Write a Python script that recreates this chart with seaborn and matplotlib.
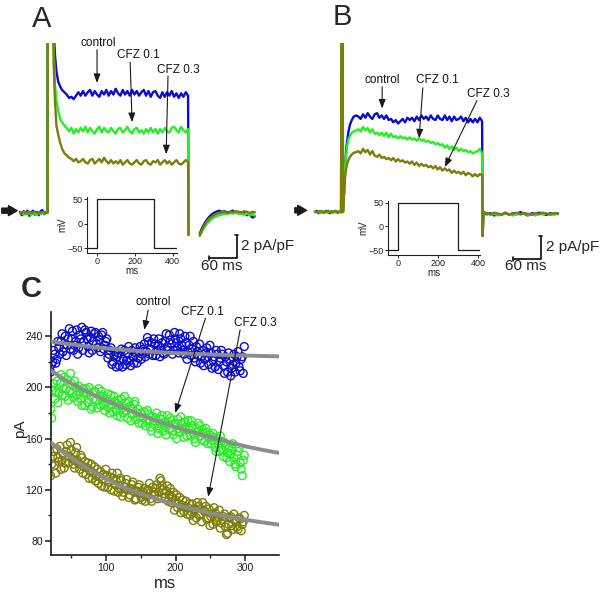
import matplotlib
matplotlib.use('Agg')
import matplotlib.pyplot as plt
import seaborn as sns

sns.set_theme(style='ticks')
plt.rcParams['font.family'] = ['Liberation Sans', 'DejaVu Sans']

BLUE = '#0b0bd0'
GREEN = '#26ee26'
OLIVE = '#7d7d08'
GRAY = '#8c8c8c'

# ---------------- Panel A traces (ms, pA/pF) ----------------
A_time = ([-60, -56, -52, -48, -44, -40, -36, -32, -28, -24, -20, -16, -12, -8, -4, -1,
           0, 9, 12, 15, 18, 22, 26, 30] + list(range(35, 301, 5)) + [301])
A_ctrl = [0.1, -0.2, 0.15, -0.1, 0.2, -0.25, 0.05, 0.2, -0.15, 0.1, -0.2, 0.15, 0.25, -0.1, 0.1, 0.0,
          40, 40, 16, 13.7, 12.3, 11.4, 11.0, 10.7,
          10.5, 10.3, 10.0, 10.1, 9.9, 10.2, 10.5, 10.2, 10.6, 10.2,
          10.5, 10.7, 10.2, 10.6, 10.3, 10.1, 10.6, 10.3, 10.7, 10.2,
          10.6, 10.3, 10.8, 10.4, 10.2, 10.7, 10.3, 10.6, 10.2, 10.7,
          10.3, 10.6, 10.2, 10.5, 10.7, 10.2, 10.6, 10.1, 10.5, 10.6,
          10.2, 10.0, 10.5, 10.1, 10.5, 10.2, 10.6, 10.1, 10.4, 10.0,
          10.4, 10.1, 10.5, 10.2,
          -1.9]
A_cfz01 = [-0.05, 0.05, -0.15, 0.0, -0.1, 0.05, -0.2, 0.0, -0.05, -0.15, 0.05, -0.1, 0.0, -0.05, 0.05, 0.0,
           40, 40, 14.5, 11.1, 9.8, 8.8, 8.2, 7.9,
           7.6, 7.4, 7.1, 7.4, 6.9, 7.3, 7.0, 7.4, 7.1, 7.5,
           7.0, 7.4, 7.1, 6.9, 7.3, 7.5, 7.0, 7.4, 7.1, 7.0,
           7.4, 7.1, 6.9, 7.3, 7.4, 7.0, 7.2, 7.5, 7.1, 6.9,
           7.3, 7.4, 7.0, 7.2, 6.9, 7.3, 7.0, 7.4, 7.0, 7.3,
           6.9, 7.3, 7.0, 7.4, 7.1, 7.0, 7.4, 7.5, 7.2, 7.0,
           7.5, 7.2, 7.0, 7.3,
           -1.9]
A_cfz03 = [0.05, 0.0, 0.1, -0.05, 0.05, 0.1, 0.0, 0.05, 0.1, 0.0, 0.05, 0.0, 0.1, 0.05, 0.0, 0.05,
           40, 40, 13.0, 9.6, 7.6, 6.8, 6.1, 5.6,
           5.2, 5.0, 4.8, 4.7, 4.5, 4.7, 4.4, 4.5, 4.7, 4.4,
           4.3, 4.6, 4.7, 4.3, 4.5, 4.7, 4.4, 4.8, 4.5, 4.3,
           4.6, 4.3, 4.5, 4.3, 4.6, 4.2, 4.4, 4.6, 4.3, 4.2,
           4.4, 4.6, 4.3, 4.2, 4.5, 4.6, 4.3, 4.2, 4.5, 4.4,
           4.6, 4.2, 4.4, 4.6, 4.3, 4.5, 4.2, 4.4, 4.6, 4.3,
           4.2, 4.4, 4.6, 4.4,
           -1.9]

A_tail_time = [325, 328, 332, 336, 340, 345, 350, 355, 360, 366, 372, 378,
               384, 390, 396, 402, 408, 414, 420, 426, 432, 438, 443]
A_tail_ctrl = [-1.8, -1.5, -1.15, -0.85, -0.6, -0.35, -0.15, 0.0, 0.1, 0.2, 0.1, 0.15,
               0.05, 0.1, 0.2, 0.0, 0.1, -0.05, 0.1, -0.2, -0.1, -0.4, -0.3]
A_tail_cfz01 = [-2.0, -1.75, -1.45, -1.2, -0.95, -0.75, -0.55, -0.4, -0.3, -0.2, -0.15, -0.05,
                -0.1, 0.0, -0.05, 0.05, -0.1, 0.0, -0.15, -0.05, -0.2, -0.1, -0.25]
A_tail_cfz03 = [-1.95, -1.65, -1.3, -1.0, -0.75, -0.5, -0.35, -0.2, -0.1, 0.0, 0.05, 0.1,
                0.0, 0.1, 0.05, 0.15, 0.1, 0.05, 0.15, 0.1, 0.0, 0.1, 0.05]

# ---------------- Panel B traces (ms, pA/pF) ----------------
B_time = ([-58, -54, -50, -46, -42, -38, -34, -30, -26, -22, -18, -14, -10, -6, -2,
           0, 1, 2, 4, 6.5, 9, 11, 13.5, 17, 21, 25, 30] + list(range(35, 301, 5))
          + [301, 303] + list(range(310, 463, 8)))
B_ctrl = [0.0, 0.1, -0.1, 0.05, 0.0, -0.05, 0.1, 0.0, -0.1, 0.05, 0.0, 0.1, -0.05, 0.0, 0.05,
          40, 40, 0.0, 1.5, 3.9, 5.4, 6.2, 6.9, 7.6, 8.0, 8.3, 8.4,
          8.3, 8.1, 8.5, 8.2, 8.6, 8.3, 8.1, 8.5, 8.6, 8.2,
          8.4, 8.1, 8.4, 8.0, 8.1, 7.8, 8.0, 7.7, 7.9, 8.1,
          7.8, 8.2, 8.0, 8.2, 7.9, 8.3, 8.0, 8.4, 8.1, 8.3,
          8.0, 8.4, 8.1, 8.0, 8.4, 8.1, 8.0, 8.4, 8.0, 8.3,
          7.9, 8.3, 8.0, 8.1, 8.3, 7.9, 8.2, 7.8, 8.1, 7.8,
          8.1, 7.8, 8.2, 7.9,
          -2.0, -0.1,
          -0.2, -0.1, -0.3, -0.15, -0.2, -0.05, -0.25, -0.1, -0.2, 0.0,
          -0.15, -0.3, -0.1, -0.2, -0.05, -0.15, -0.25, -0.1, -0.2, -0.1]
B_cfz01 = [0.0, -0.05, 0.05, -0.1, 0.0, 0.05, -0.05, 0.0, 0.05, -0.1, 0.0, -0.05, 0.05, 0.0, -0.05,
           40, 40, 0.0, 1.5, 3.9, 5.0, 5.7, 6.3, 6.6, 6.9, 7.0, 7.1,
           7.2, 7.0, 7.4, 7.1, 7.3, 6.9, 7.2, 6.8, 6.9, 6.7,
           6.9, 6.6, 6.9, 6.5, 6.8, 6.5, 6.6, 6.4, 6.6, 6.4,
           6.5, 6.3, 6.5, 6.3, 6.4, 6.2, 6.4, 6.2, 6.3, 6.1,
           6.2, 6.0, 6.1, 5.9, 6.0, 5.8, 5.9, 5.6, 5.8, 5.5,
           5.7, 5.4, 5.6, 5.3, 5.5, 5.3, 5.4, 5.2, 5.3, 5.1,
           5.2, 5.3, 5.5, 5.1,
           -2.0, -0.1,
           -0.1, -0.25, -0.15, -0.3, -0.2, -0.1, -0.2, -0.3, -0.15, -0.2,
           -0.1, -0.25, -0.2, -0.3, -0.15, -0.2, -0.1, -0.25, -0.15, -0.2]
B_cfz03 = [0.05, 0.0, 0.05, 0.1, 0.0, 0.05, 0.0, 0.1, 0.05, 0.0, 0.05, 0.1, 0.0, 0.05, 0.0,
           40, 40, 0.0, 1.2, 3.0, 3.8, 4.2, 4.5, 4.8, 5.0, 5.15, 5.2,
           5.3, 5.1, 5.5, 5.2, 5.4, 5.0, 5.3, 4.9, 4.8, 5.0,
           4.7, 4.8, 4.6, 4.7, 4.5, 4.7, 4.4, 4.6, 4.4, 4.5,
           4.3, 4.4, 4.2, 4.4, 4.1, 4.3, 4.0, 4.2, 4.0, 4.1,
           3.9, 4.0, 3.8, 4.0, 3.7, 3.9, 3.6, 3.8, 3.6, 3.7,
           3.4, 3.6, 3.4, 3.5, 3.3, 3.5, 3.2, 3.4, 3.3, 3.1,
           3.3, 3.1, 3.3, 3.2,
           -2.1, 0.0,
           -0.1, -0.2, -0.05, -0.15, -0.25, -0.1, -0.2, -0.15, -0.05, -0.2,
           -0.1, -0.15, -0.25, -0.1, -0.2, -0.05, -0.15, -0.2, -0.1, -0.15]

# Voltage protocol insets (ms, mV)
prot_t = [-60, 0, 0, 300, 300, 430]
prot_v = [-50, -50, 50, 50, -50, -50]
ins_xticks = [0, 200, 400]
ins_yticks = [-50, 0, 50]

# ---------------- Panel C (ms, pA) ----------------
C_time = list(range(20, 300, 3))
C_time2 = [x / 2 for x in range(43, 600, 6)]
C_ctrl = [212, 220, 226, 222, 231, 236, 228, 240, 233, 246, 238, 229, 236, 226, 241, 247,
          236, 243, 232, 239, 229, 242, 234, 240, 228, 243, 233, 238, 226, 231, 220, 228,
          224, 217, 230, 222, 218, 226, 221, 229, 219, 227, 223, 232, 226, 234, 228, 236,
          230, 225, 234, 229, 238, 231, 227, 236, 232, 241, 234, 229, 238, 231, 242, 233,
          226, 235, 228, 240, 230, 223, 232, 225, 219, 229, 222, 231, 218, 227, 221, 216,
          226, 220, 229, 217, 224, 212, 222, 215, 226, 219, 228, 213, 224, 232]
C_ctrl2 = [218, 229, 219, 236, 226, 242, 231, 225, 238, 230, 244, 233, 245, 231, 238, 229,
           245, 238, 227, 244, 236, 243, 231, 237, 241, 230, 236, 223, 229, 218, 225, 216,
           227, 221, 216, 229, 221, 232, 217, 224, 231, 219, 228, 222, 230, 224, 239, 226,
           235, 238, 225, 233, 224, 235, 226, 242, 229, 237, 226, 243, 235, 227, 238, 229,
           240, 222, 233, 225, 236, 220, 228, 234, 224, 217, 227, 224, 233, 215, 224, 229,
           214, 223, 226, 211, 220, 227, 209, 218, 212, 224, 216, 222, 211]
C_cfz01 = [183, 198, 191, 205, 196, 210, 199, 193, 206, 197, 203, 192, 200, 189, 197, 186,
           195, 199, 188, 194, 185, 197, 190, 199, 186, 193, 182, 191, 184, 194, 181, 189,
           178, 186, 191, 180, 188, 176, 185, 179, 187, 175, 183, 177, 172, 181, 174, 179,
           169, 177, 171, 180, 168, 175, 166, 173, 178, 167, 174, 163, 171, 175, 165, 172,
           161, 169, 174, 163, 170, 160, 168, 172, 162, 167, 158, 165, 161, 156, 164, 153,
           160, 150, 158, 146, 155, 149, 142, 152, 145, 138, 150, 141, 131, 147]
C_cfz012 = [176, 203, 196, 188, 203, 194, 208, 199, 190, 211, 196, 205, 194, 201, 191, 199,
            186, 196, 200, 183, 191, 196, 184, 193, 197, 186, 188, 195, 180, 187, 193, 182,
            190, 177, 184, 193, 182, 189, 174, 183, 189, 180, 172, 180, 176, 170, 182, 174,
            166, 174, 176, 164, 172, 178, 170, 163, 171, 176, 166, 172, 160, 168, 177, 168,
            173, 162, 167, 174, 164, 157, 165, 170, 159, 164, 168, 156, 163, 159, 161, 150,
            156, 162, 151, 157, 145, 153, 148, 156, 140, 147, 153, 136, 143]
C_cfz03 = [131, 146, 139, 152, 142, 136, 148, 141, 155, 146, 151, 140, 149, 143, 136, 145,
           138, 132, 141, 135, 129, 138, 131, 125, 134, 128, 122, 131, 126, 120, 129, 124,
           133, 121, 127, 118, 125, 120, 116, 124, 119, 113, 122, 117, 112, 121, 115, 119,
           113, 122, 116, 124, 118, 127, 120, 114, 123, 116, 110, 118, 112, 106, 114, 108,
           103, 111, 106, 100, 109, 104, 98, 107, 101, 110, 103, 97, 105, 99, 93, 102,
           96, 104, 94, 99, 91, 86, 98, 92, 101, 95, 89, 97, 93, 100]
C_cfz032 = [140, 150, 133, 145, 154, 143, 137, 150, 141, 157, 144, 137, 153, 140, 147, 133,
            142, 137, 129, 140, 133, 127, 136, 130, 123, 132, 136, 122, 130, 133, 119, 127,
            118, 129, 115, 122, 128, 114, 121, 126, 112, 119, 124, 114, 118, 111, 120, 125,
            111, 118, 121, 113, 129, 123, 117, 119, 111, 121, 114, 104, 116, 109, 102, 112,
            106, 101, 109, 103, 96, 105, 110, 100, 95, 104, 107, 98, 92, 101, 106, 95,
            99, 90, 97, 101, 85, 93, 99, 89, 96, 91, 98, 88, 95]

fit_time = [20, 35, 50, 75, 100, 125, 150, 175, 200, 225, 250, 275, 300, 325, 350]
fit_ctrl = [236, 234.8, 233.7, 232, 230.6, 229.4, 228.4, 227.6, 226.9, 226.3, 225.8, 225.3, 225, 224.6, 224.3]
fit_cfz01 = [213.5, 208, 203, 196, 190, 184, 178.5, 173.5, 169, 165, 161.3, 157.5, 154, 151.2, 148.7]
fit_cfz03 = [157, 150.5, 145, 136, 128.5, 122, 116.8, 112.2, 108.3, 104.8, 101.8, 99, 96.6, 94.5, 92.6]

C_yticks = [80, 120, 160, 200, 240]
C_yminor = [100, 140, 180, 220]
C_xticks = [100, 200, 300]
C_xminor = [50, 150, 250]

# ---------------- Figure ----------------
W, H = 602, 595
fig = plt.figure(figsize=(W / 100, H / 100), dpi=100)
fig.patch.set_facecolor('white')


def box(l, t, r, b):
    return [l / W, (H - b) / H, (r - l) / W, (b - t) / H]


def trace(ax, t, v, c, lw=1.7):
    sns.lineplot(x=t, y=v, ax=ax, color=c, lw=lw, estimator=None, sort=False, legend=False)


ARW = dict(arrowstyle='-|>,head_length=0.45,head_width=0.17', color='k', lw=0.8,
           shrinkA=0, shrinkB=0)
TXT = dict(fontsize=8.5, ha='center', va='center', color='#111111')
MARK = dict(arrowstyle='simple,head_length=0.7,head_width=0.8,tail_width=0.4',
            color='k', shrinkA=0, shrinkB=0, mutation_scale=9)

# Panel A
axA = fig.add_axes(box(0, 43, 301, 280))
axA.axis('off')
for v, c in [(A_ctrl, BLUE), (A_cfz01, GREEN), (A_cfz03, OLIVE)]:
    trace(axA, A_time, v, c)
for v, c in [(A_tail_ctrl, BLUE), (A_tail_cfz01, GREEN), (A_tail_cfz03, OLIVE)]:
    trace(axA, A_tail_time, v, c)
axA.set_xlim(-102.8, 541.8)
axA.set_ylim(-5.83, 14.78)
axA.text(107, 14.8, 'control', **TXT)
axA.annotate('', xy=(105, 11.3), xytext=(105, 14.2), arrowprops=ARW, annotation_clip=False)
axA.text(193, 13.7, 'CFZ 0.1', **TXT)
axA.annotate('', xy=(180, 7.9), xytext=(176, 13.1), arrowprops=ARW, annotation_clip=False)
axA.text(280, 12.4, 'CFZ 0.3', **TXT)
axA.annotate('', xy=(253, 5.1), xytext=(257, 11.9), arrowprops=ARW, annotation_clip=False)
axA.annotate('', xy=(-66, 0.2), xytext=(-99, 0.2), annotation_clip=False, arrowprops=MARK)
sbA_t, sbA_v = 404, -3.9
axA.plot([sbA_t - 60, sbA_t, sbA_t], [sbA_v, sbA_v, sbA_v + 2], color='k', lw=1.3, clip_on=False)
axA.plot([sbA_t - 60, sbA_t - 60], [sbA_v - 0.15, sbA_v + 0.15], color='k', lw=1.2, clip_on=False)
axA.plot([sbA_t - 3, sbA_t + 3], [sbA_v + 2, sbA_v + 2], color='k', lw=1.2, clip_on=False)
axA.text(sbA_t + 9, sbA_v + 1.0, '2 pA/pF', fontsize=11, ha='left', va='center')
axA.text(sbA_t - 32, sbA_v - 0.75, '60 ms', fontsize=11, ha='center', va='center')

# Panel B
axB = fig.add_axes(box(301, 43, 602, 280))
axB.axis('off')
for v, c in [(B_ctrl, BLUE), (B_cfz01, GREEN), (B_cfz03, OLIVE)]:
    trace(axB, B_time, v, c)
axB.set_xlim(-87.8, 556.7)
axB.set_ylim(-5.91, 14.70)
axB.text(86, 11.5, 'control', **TXT)
axB.annotate('', xy=(86, 9.0), xytext=(86, 10.9), arrowprops=ARW, annotation_clip=False)
axB.text(205, 11.5, 'CFZ 0.1', **TXT)
axB.annotate('', xy=(165, 6.4), xytext=(173, 10.8), arrowprops=ARW, annotation_clip=False)
axB.text(313, 10.3, 'CFZ 0.3', **TXT)
axB.annotate('', xy=(220, 3.9), xytext=(289, 9.7), arrowprops=ARW, annotation_clip=False)
axB.annotate('', xy=(-76, 0.15), xytext=(-101, 0.15), annotation_clip=False, arrowprops=MARK)
sbB_t, sbB_v = 425.5, -4.1
axB.plot([sbB_t - 60, sbB_t, sbB_t], [sbB_v, sbB_v, sbB_v + 2], color='k', lw=1.3, clip_on=False)
axB.plot([sbB_t - 60, sbB_t - 60], [sbB_v - 0.15, sbB_v + 0.15], color='k', lw=1.2, clip_on=False)
axB.plot([sbB_t - 3, sbB_t + 3], [sbB_v + 2, sbB_v + 2], color='k', lw=1.2, clip_on=False)
axB.text(sbB_t + 11, sbB_v + 1.1, '2 pA/pF', fontsize=11, ha='left', va='center')
axB.text(sbB_t - 32, sbB_v - 0.55, '60 ms', fontsize=11, ha='center', va='center')

# Insets
for rect, xl, yl in [((87, 197, 177, 253), (-51, 423), (-60, 55)),
                     ((388, 201, 480, 255), (-51, 408), (-60.6, 54))]:
    ins = fig.add_axes(box(*rect))
    ins.set_facecolor('none')
    sns.lineplot(x=prot_t, y=prot_v, ax=ins, color='k', lw=0.9, estimator=None, sort=False)
    ins.set_xlim(*xl)
    ins.set_ylim(*yl)
    ins.set_xticks(ins_xticks)
    ins.set_yticks(ins_yticks)
    ins.tick_params(labelsize=6.5, length=2, width=0.7, pad=1, colors='#222222')
    for s in ['top', 'right']:
        ins.spines[s].set_visible(False)
    for s in ['left', 'bottom']:
        ins.spines[s].set_linewidth(0.8)
        ins.spines[s].set_color('#222222')
    ins.set_xlabel('ms', fontsize=7, labelpad=0, color='#222222')
    ins.set_ylabel('mV', fontsize=7, labelpad=0, color='#222222')

# Panel C
axC = fig.add_axes(box(51, 312, 279, 555))
axC.set_facecolor('white')
for v, v2, c in [(C_ctrl, C_ctrl2, BLUE), (C_cfz01, C_cfz012, GREEN), (C_cfz03, C_cfz032, OLIVE)]:
    sns.scatterplot(x=C_time + C_time2, y=v + v2, ax=axC, s=32, color=c, facecolor='none',
                    edgecolor=c, linewidth=1.0, legend=False, zorder=2)
for v in [fit_ctrl, fit_cfz01, fit_cfz03]:
    sns.lineplot(x=fit_time, y=v, ax=axC, color=GRAY, lw=2.8, estimator=None, sort=False,
                 zorder=3)
axC.set_xlim(20.6, 349)
axC.set_ylim(69, 259)
axC.set_xticks(C_xticks)
axC.set_xticks(C_xminor, minor=True)
axC.set_yticks(C_yticks)
axC.set_yticks(C_yminor, minor=True)
axC.tick_params(which='major', direction='out', length=4, width=1.1, labelsize=7.5, pad=2,
                colors='k')
axC.tick_params(which='minor', direction='out', length=2.5, width=1.0)
sns.despine(ax=axC)
for s in ['left', 'bottom']:
    axC.spines[s].set_linewidth(1.2)
    axC.spines[s].set_color('k')
axC.set_xlabel('ms', fontsize=12, labelpad=2)
axC.set_ylabel('pA', fontsize=11)
axC.yaxis.set_label_coords(-0.105, 0.52)
axC.text(168, 266.5, 'control', **TXT)
axC.annotate('', xy=(155, 245), xytext=(160.5, 260.5), arrowprops=ARW, annotation_clip=False)
axC.text(238.5, 259, 'CFZ 0.1', **TXT)
axC.annotate('', xy=(199.5, 180), xytext=(243, 254), arrowprops=ARW, annotation_clip=False)
axC.text(315, 250.3, 'CFZ 0.3', **TXT)
axC.annotate('', xy=(247, 114.5), xytext=(293, 245), arrowprops=ARW, annotation_clip=False)

# Panel letters
fig.text(32 / W, (H - 27) / H, 'A', fontsize=21, va='baseline', ha='left')
fig.text(333 / W, (H - 25) / H, 'B', fontsize=21, va='baseline', ha='left')
fig.text(21 / W, (H - 297) / H, 'C', fontsize=21, fontweight='bold', va='baseline', ha='left')

fig.savefig('out.png', dpi=100)
